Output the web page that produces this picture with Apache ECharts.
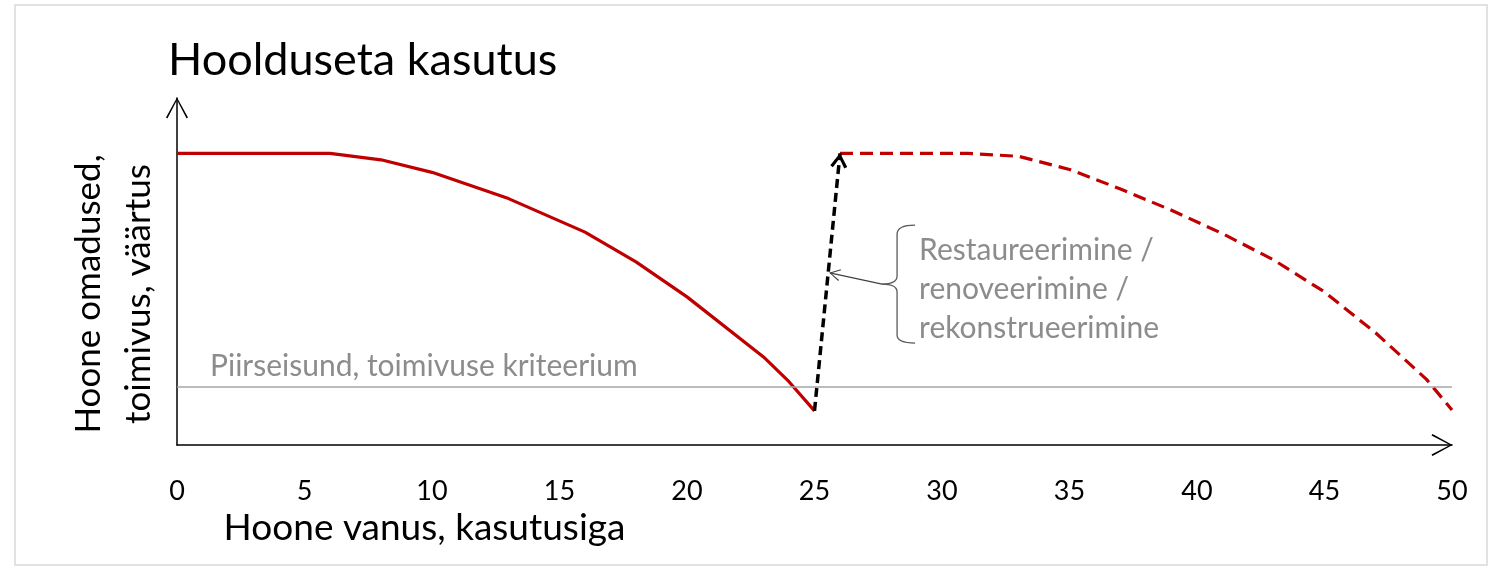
<!DOCTYPE html>
<html><head><meta charset="utf-8">
<script src="https://cdn.jsdelivr.net/npm/echarts@6/dist/echarts.min.js"></script>
<style>html,body{margin:0;padding:0;background:#fff}#c{width:1499px;height:569px}</style>
</head><body><div id="c"></div>
<script>
// ---- data ----
const xTicks = [0, 5, 10, 15, 20, 25, 30, 35, 40, 45, 50];
const ageBefore = [0, 6, 8, 10, 13, 16, 18, 20, 23, 24, 25];
const valueBefore = [100, 100, 97.8, 93.5, 84.5, 73, 62.8, 50.8, 30.2, 21.7, 11.7];
const ageAfter = [26, 31, 33, 35, 37, 39, 41, 43, 45, 47, 49, 50];
const valueAfter = [100, 100, 99, 94.5, 87.8, 80.5, 72.5, 63.5, 52.5, 38.5, 22.5, 12];
const renovationFrom = [25, 11.7];
const renovationTo = [26, 100];
const criterionValue = 20;
const criterionLabel = 'Piirseisund, toimivuse kriteerium';
const renovationLabel = ['Restaureerimine /', 'renoveerimine /', 'rekonstrueerimine'];
const titleText = 'Hoolduseta kasutus';
const xName = 'Hoone vanus, kasutusiga';
const yName = ['Hoone omadused,', 'toimivus, väärtus'];
const leaderFrom = [27.65, 55.2];
const leaderTo = [25.6, 59.0];

const FONT = 'Lato';
const RED = '#C00000';
const chevronThin = 'path://M11,0 L22,20 L20.6,21 L11,2.6 L1.4,21 L0,20 Z';
const chevronBold = 'path://M8,0 L16,12.5 L13.4,14.2 L8,5.4 L2.6,14.2 L0,12.5 Z';
const chevronSmall = 'path://M6,0 L12,10 L11,10.6 L6,1.8 L1,10.6 L0,10 Z';

const zip = (a, b) => a.map((v, i) => [v, b[i]]);

const chart = echarts.init(document.getElementById('c'), null, {renderer: 'canvas'});
const option = {
  animation: false,
  backgroundColor: '#fff',
  textStyle: {fontFamily: FONT},
  title: {
    text: titleText, left: 163, top: 33,
    textStyle: {fontFamily: FONT, fontSize: 45, fontWeight: 'normal', color: '#000'}
  },
  grid: {left: 177, right: 47, top: 98, bottom: 124, containLabel: false},
  xAxis: {
    type: 'value', min: 0, max: 50, interval: 5,
    axisLine: {show: true, lineStyle: {color: '#000', width: 1.5},
      symbol: ['none', chevronThin], symbolSize: [22, 21], symbolOffset: [0, -10]},
    axisTick: {show: false},
    splitLine: {show: false},
    axisLabel: {color: '#000', fontSize: 27, fontFamily: FONT, margin: 33,
      customValues: xTicks, formatter: v => String(v)},
    name: xName, nameLocation: 'middle', nameGap: 64,
    nameTextStyle: {fontFamily: FONT, fontSize: 37, color: '#000', padding: [0, 780, 0, 0]}
  },
  yAxis: {
    type: 'value', min: 0, max: 119,
    axisLine: {show: true, onZero: false, lineStyle: {color: '#000', width: 1.5},
      symbol: ['none', chevronThin], symbolSize: [22, 21], symbolOffset: [0, -10]},
    axisTick: {show: false},
    splitLine: {show: false},
    axisLabel: {show: false},
    name: yName.join('\n'), nameLocation: 'middle', nameGap: 13, nameRotate: 90,
    nameTextStyle: {fontFamily: FONT, fontSize: 35, color: '#000', lineHeight: 50,
      padding: [0, 45, 0, 0]}
  },
  series: [
    {
      name: 'before', type: 'line', data: zip(ageBefore, valueBefore),
      symbol: 'none', lineStyle: {color: RED, width: 3.2}, z: 3,
      markLine: {
        silent: true, symbol: ['none', 'none'], animation: false,
        lineStyle: {color: '#a6a6a6', width: 1.5, type: 'solid'},
        label: {show: true, position: 'insideStartTop', formatter: criterionLabel,
          color: '#8c8c8c', fontSize: 30, fontFamily: FONT, distance: [33, 5]},
        data: [{yAxis: criterionValue}]
      }
    },
    {
      name: 'after', type: 'line', data: zip(ageAfter, valueAfter),
      symbol: 'none', lineStyle: {color: RED, width: 3.2, type: [13, 7]}, z: 3
    },
    {
      name: 'renovation', type: 'line', data: [], z: 4,
      markLine: {
        silent: true, animation: false,
        symbol: ['none', chevronBold], symbolSize: [17, 15], symbolOffset: [0, [0, 7]],
        lineStyle: {color: '#000', width: 3.5, type: [9, 5]},
        label: {show: false},
        data: [[{coord: renovationFrom}, {coord: renovationTo}]]
      }
    },
    {
      name: 'leader', type: 'line', data: [], z: 4,
      markLine: {
        silent: true, animation: false,
        symbol: ['none', chevronSmall], symbolSize: [12, 11], symbolOffset: [0, [0, 5]],
        lineStyle: {color: '#404040', width: 1.2, type: 'solid'},
        label: {show: false},
        data: [[{coord: leaderFrom}, {coord: leaderTo}]]
      }
    }
  ]
};
chart.setOption(option);

const tip = chart.convertToPixel({gridIndex: 0}, leaderFrom);
const tx = tip[0], ty = tip[1];
const braceStyle = {fill: 'none', stroke: '#595959', lineWidth: 1.3};
const bz = (x1, y1, cx, cy, x2, y2) => ({type: 'bezierCurve', silent: true,
  shape: {x1: x1, y1: y1, cpx1: cx, cpy1: cy, x2: x2, y2: y2}, style: braceStyle});
const ln = (x1, y1, x2, y2) => ({type: 'line', silent: true,
  shape: {x1: x1, y1: y1, x2: x2, y2: y2}, style: braceStyle});
chart.setOption({
  graphic: [
    {type: 'rect', shape: {x: 15, y: 5, width: 1472, height: 560},
      style: {fill: 'none', stroke: '#d9d9d9', lineWidth: 1.5}, silent: true, z: -1},
    bz(tx + 33, ty - 59, tx + 15, ty - 59, tx + 15, ty - 50),
    ln(tx + 15, ty - 50, tx + 15, ty - 8),
    bz(tx + 15, ty - 8, tx + 15, ty, tx, ty),
    bz(tx, ty, tx + 15, ty, tx + 15, ty + 8),
    ln(tx + 15, ty + 8, tx + 15, ty + 51),
    bz(tx + 15, ty + 51, tx + 15, ty + 59, tx + 33, ty + 59),
    {type: 'text', silent: true, x: tx + 37, y: ty - 53,
      style: {text: renovationLabel.join('\n'), fill: '#8c8c8c', fontSize: 30, fontFamily: FONT,
        lineHeight: 39, align: 'left', verticalAlign: 'top'}}
  ]
});
</script></body></html>
